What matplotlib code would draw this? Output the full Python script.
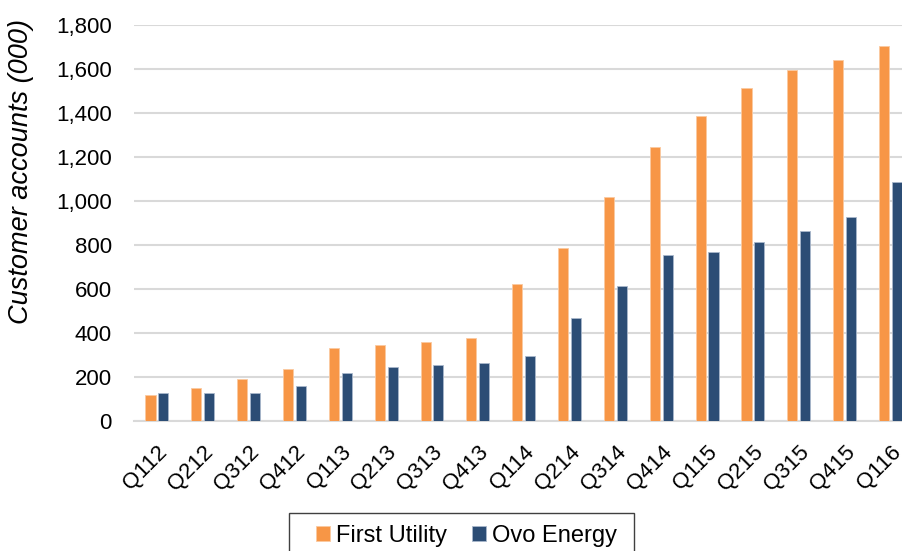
import matplotlib
matplotlib.use("Agg")
import matplotlib.pyplot as plt
from matplotlib.patches import Rectangle
import numpy as np

categories = ["Q112", "Q212", "Q312", "Q412", "Q113", "Q213", "Q313", "Q413",
              "Q114", "Q214", "Q314", "Q414", "Q115", "Q215", "Q315", "Q415", "Q116"]
first_utility = [118, 151, 192, 238, 331, 345, 361, 376,
                 623, 788, 1017, 1247, 1386, 1512, 1597, 1643, 1703]
ovo_energy = [128, 128, 128, 157, 216, 247, 253, 262,
              297, 467, 612, 756, 767, 812, 862, 927, 1088]
yticks = [0, 200, 400, 600, 800, 1000, 1200, 1400, 1600, 1800]

plt.rcParams['font.family'] = ['Liberation Sans', 'DejaVu Sans']

fig = plt.figure(figsize=(9.02, 5.51), dpi=100)
ax = fig.add_axes([0.1486, 0.236, 0.864, 0.7187])

x = np.arange(len(categories))
w = 0.22
off = 0.14
ax.bar(x - off, first_utility, w, color="#F79646", edgecolor="#FBC9A0", linewidth=0.6,
       label="First Utility", zorder=3)
ax.bar(x + off, ovo_energy, w, color="#2C4D75", edgecolor="#A9B8CC", linewidth=0.6,
       label="Ovo Energy", zorder=3)

ax.set_xlim(-0.5, len(categories) - 0.5)
ax.set_ylim(0, 1800)
ax.set_yticks(yticks)
ax.set_yticklabels([f"{v:,}" for v in yticks], fontsize=16)
ax.set_xticks(x)
ax.set_xticklabels(categories, fontsize=16, rotation=45, ha="right", va="top",
                   rotation_mode="anchor")
ax.tick_params(axis="both", length=0)
ax.tick_params(axis="x", pad=15)
ax.tick_params(axis="y", pad=16)

ax.grid(axis="y", color="#D9D9D9", linewidth=1.5, zorder=0)
for s in ["top", "right", "left"]:
    ax.spines[s].set_visible(False)
ax.spines["bottom"].set_color("#D9D9D9")
ax.spines["bottom"].set_linewidth(1.5)

ax.set_ylabel("Customer accounts (000)", fontsize=19.5, style="italic")
ax.yaxis.set_label_coords(-0.128, 0.63)

# legend frame drawn as a figure-level box (cropped at bottom like the reference)
fig.patches.append(Rectangle((289 / 902, -0.05), 345 / 902, (551 - 513) / 551 + 0.05,
                             transform=fig.transFigure, fill=False,
                             edgecolor="#404040", linewidth=1.0))
leg = fig.legend(loc="upper left", bbox_to_anchor=(316 / 902, 1 - 525 / 551), ncol=2,
                 fontsize=17, frameon=False, handlelength=0.6,
                 handleheight=0.6, handletextpad=0.25, columnspacing=1.05,
                 borderpad=0, borderaxespad=0)

fig.savefig("out.png", dpi=100)
